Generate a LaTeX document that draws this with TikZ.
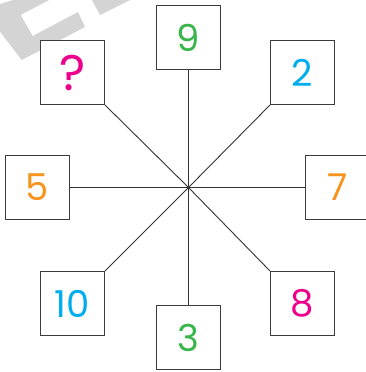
\documentclass[tikz,border=0pt]{standalone}
\usepackage{fontspec}
\setmainfont{Poppins}
\definecolor{cgreen}{RGB}{57,181,74}
\definecolor{cmag}{RGB}{236,0,140}
\definecolor{ccyan}{RGB}{0,174,239}
\definecolor{corange}{RGB}{247,148,29}
\definecolor{boxgray}{RGB}{60,60,60}
\definecolor{linegray}{RGB}{50,50,50}
\definecolor{wm}{RGB}{212,212,212}
\begin{document}
\begin{tikzpicture}[x=1pt,y=-1pt,
  numbox/.style={draw=boxgray, line width=1.1pt, fill=white, minimum size=64pt, inner sep=0pt, font=\fontsize{37}{37}\selectfont},
  spoke/.style={draw=linegray, line width=0.9pt}]
\useasboundingbox (0,0) rectangle (366,372);
\clip (0,0) rectangle (366,372);
% watermark
\fill[wm] (0,31.7) -- (21.7,60) -- (85,27) -- (78,12) -- (32.7,36) -- (20.7,15) -- (49,0) -- (13,0) -- (0,4) -- cycle;
\fill[wm] (92,0) -- (100,15) -- (130,0) -- cycle;
\coordinate (c) at (188.5,187.5);
\node[numbox, text=cgreen] (n9) at (188.5,37.5) {9};
\node[numbox, text=cmag, font=\fontsize{50}{50}\selectfont] (nq) at (72.5,72.5) {?};
\node[numbox, text=ccyan] (n2) at (302.5,72.5) {2};
\node[numbox, text=corange] (n5) at (37.5,187.5) {5};
\node[numbox, text=corange] (n7) at (337.5,187.5) {7};
\node[numbox, text=ccyan] (n10) at (72.5,303.5) {10};
\node[numbox, text=cgreen] (n3) at (188.5,337.5) {3};
\node[numbox, text=cmag] (n8) at (302.5,303.5) {8};
\draw[spoke] (c) -- (n9.south);
\draw[spoke] (c) -- (n3.north);
\draw[spoke] (c) -- (n5.east);
\draw[spoke] (c) -- (n7.west);
\draw[spoke] (c) -- (nq.south east);
\draw[spoke] (c) -- (n2.south west);
\draw[spoke] (c) -- (n10.north east);
\draw[spoke] (c) -- (n8.north west);
\end{tikzpicture}
\end{document}
